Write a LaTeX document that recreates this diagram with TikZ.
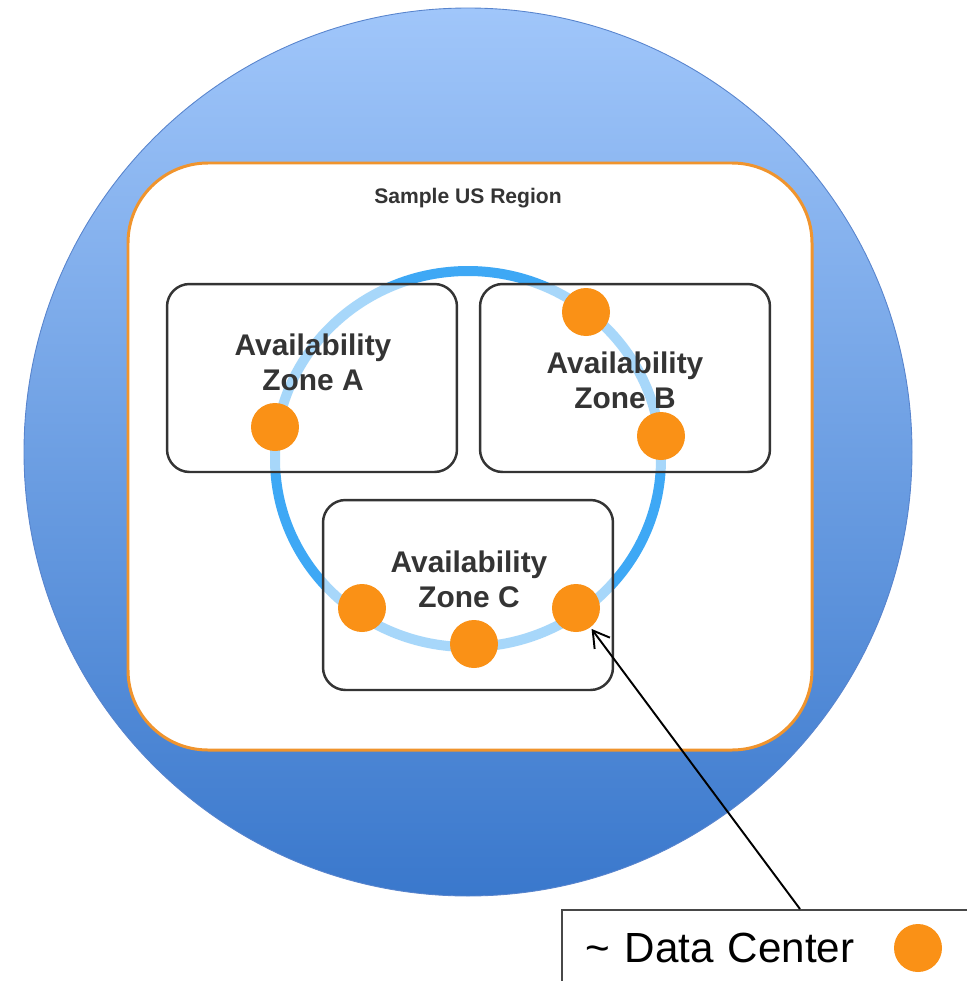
\documentclass[tikz,border=0pt]{standalone}
\usepackage{fontspec}
\setmainfont{Liberation Sans}
\usetikzlibrary{positioning,arrows.meta}

\definecolor{skytop}{RGB}{160,198,250}
\definecolor{skybot}{RGB}{58,120,204}
\definecolor{skyline}{RGB}{88,132,205}
\definecolor{regionorange}{RGB}{240,148,45}
\definecolor{ringblue}{RGB}{62,168,245}
\definecolor{dcorange}{RGB}{250,145,22}
\definecolor{zonegray}{RGB}{52,52,52}

\begin{document}
\begin{tikzpicture}[%
    x=0.02cm, y=0.02cm,
    zone/.style={draw=zonegray, line width=1.4pt, rounded corners=0.45cm,
      fill=white, fill opacity=0.55, minimum width=5.8cm, minimum height=3.76cm},
    zonetext/.style={font=\bfseries\fontsize{17}{20}\selectfont, text=zonegray, align=center},
    dc/.style={circle, fill=dcorange, inner sep=0, minimum size=0.96cm},
    pointer/.style={-{Straight Barb[length=0.32cm, width=0.38cm]}, line width=1.1pt, shorten >=1pt}
  ]
    \clip (0,0) rectangle (967,-981);

    % the big blue region circle
    \shade[top color=skytop, bottom color=skybot, draw=skyline, line width=0.5pt]
      (468,-452) circle (444);

    \draw[regionorange, fill=white, line width=1.7pt, rounded corners=1.6cm]
      (128,-163) rectangle (812,-750);
    \node[font=\bfseries\fontsize{12}{14}\selectfont, text=zonegray] (region) at (468,-198) {Sample US Region};

    % ring through the data centers
    \draw[ringblue, line width=0.2cm] (468,-459) ellipse [x radius=193, y radius=188];

    \node[zone] (za) at (312,-378) {};
    \node[zone] (zb) at (625,-378) {};
    \node[zone, minimum height=3.8cm] (zc) at (468,-595) {};

    \node[zonetext] (ta) at (313,-362) {Availability\\Zone A};
    \node[zonetext] (tb) at (625,-380) {Availability\\Zone B};
    \node[zonetext] (tc) at (469,-579) {Availability\\Zone C};

    \node[dc] (a1) at (275,-427) {};
    \node[dc] (b1) at (586,-312) {};
    \node[dc] (b2) at (661,-436) {};
    \node[dc] (c1) at (362,-608) {};
    \node[dc] (c2) at (474,-644) {};
    \node[dc] (c3) at (576,-608) {};

    % legend
    \node[draw=zonegray!90, line width=1.1pt, anchor=north west, minimum height=1.52cm,
      text width=9cm, align=left, inner xsep=0.48cm, font=\fontsize{24}{28}\selectfont]
      (legend) at (561,-909) {\textasciitilde\ Data Center};
    \node[dc] (dl) at (918,-948) {};

    \coordinate (lgtop) at (800,-909);
    \draw[pointer] (lgtop) -- (c3);
  \end{tikzpicture}
\end{document}
